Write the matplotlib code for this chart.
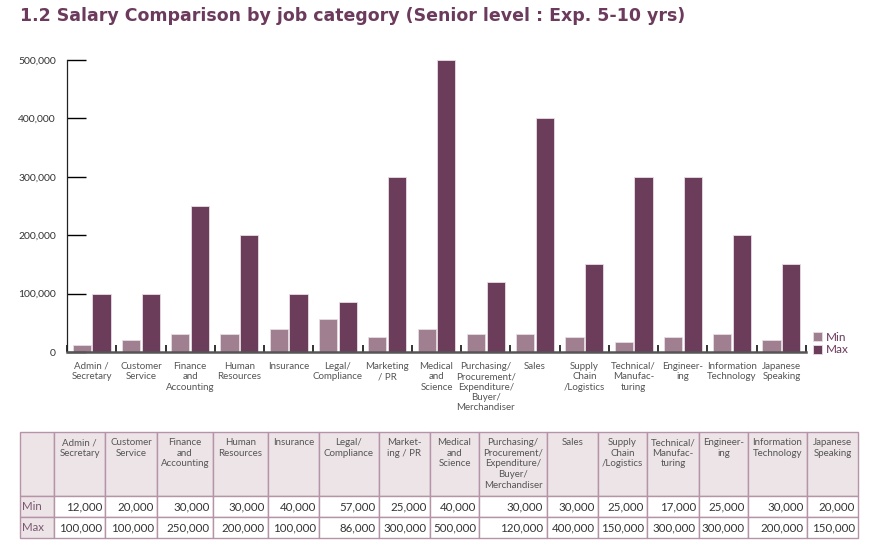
import matplotlib
matplotlib.use('Agg')
import matplotlib.pyplot as plt
import numpy as np

chart_labels = ['Admin /\nSecretary', 'Customer\nService', 'Finance\nand\nAccounting',
                'Human\nResources', 'Insurance', 'Legal/\nCompliance', 'Marketing\n/ PR',
                'Medical\nand\nScience',
                'Purchasing/\nProcurement/\nExpenditure/\nBuyer/\nMerchandiser',
                'Sales', 'Supply\nChain\n/Logistics', 'Technical/\nManufac-\nturing',
                'Engineer-\ning', 'Information\nTechnology', 'Japanese\nSpeaking']
table_labels = ['Admin /\nSecretary', 'Customer\nService', 'Finance\nand\nAccounting',
                'Human\nResources', 'Insurance', 'Legal/\nCompliance', 'Market-\ning / PR',
                'Medical\nand\nScience',
                'Purchasing/\nProcurement/\nExpenditure/\nBuyer/\nMerchandiser',
                'Sales', 'Supply\nChain\n/Logistics', 'Technical/\nManufac-\nturing',
                'Engineer-\ning', 'Information\nTechnology', 'Japanese\nSpeaking']
min_salary = [12000, 20000, 30000, 30000, 40000, 57000, 25000, 40000,
              30000, 30000, 25000, 17000, 25000, 30000, 20000]
max_salary = [100000, 100000, 250000, 200000, 100000, 86000, 300000, 500000,
              120000, 400000, 150000, 300000, 300000, 200000, 150000]
yticks = [0, 100000, 200000, 300000, 400000, 500000]

MIN_COLOR = '#a07f91'
MAX_COLOR = '#6b3d5a'
TITLE_COLOR = '#6b3a5c'
TEXT_COLOR = '#555555'
FONT = ['Lato', 'DejaVu Sans']

plt.rcParams['font.family'] = FONT

W, H = 873, 559
fig = plt.figure(figsize=(W / 100, H / 100), dpi=100)

fig.text(20 / W, 1 - 16 / H, '1.2 Salary Comparison by job category (Senior level : Exp. 5-10 yrs)',
         fontsize=12.5, fontweight='bold', family='DejaVu Sans', color=TITLE_COLOR,
         va='center', ha='left')

## bar chart
ax = fig.add_axes([67 / W, 1 - 352 / H, (806 - 67) / W, (352 - 60) / H])
x = np.arange(len(chart_labels))
bw = 0.37
ax.bar(x - 0.2, min_salary, bw, color=MIN_COLOR, edgecolor='#e8dde3', linewidth=0.6, label='Min')
ax.bar(x + 0.2, max_salary, bw, color=MAX_COLOR, edgecolor='#e8dde3', linewidth=0.6, label='Max')
ax.set_xlim(-0.5, len(chart_labels) - 0.5)
ax.set_ylim(0, 500000)

ax.set_yticks(yticks)
ax.set_yticklabels(['{:,}'.format(v) for v in yticks])
ax.tick_params(axis='y', direction='in', length=14, width=1, pad=8,
               labelsize=7.5, labelcolor='#333333')
ax.set_xticks(x)
ax.set_xticklabels(chart_labels, fontsize=7, color=TEXT_COLOR, va='top')
ax.tick_params(axis='x', which='major', length=0, pad=7)
ax.set_xticks(np.arange(len(chart_labels) + 1) - 0.5, minor=True)
ax.tick_params(axis='x', which='minor', direction='in', length=5, width=1.2, color='#111111')

for s in ['top', 'right']:
    ax.spines[s].set_visible(False)
ax.spines['left'].set_color('#222222')
ax.spines['left'].set_linewidth(0.9)
ax.spines['bottom'].set_color('#555555')
ax.spines['bottom'].set_linewidth(1.8)

fig.legend(loc='upper left', bbox_to_anchor=(813 / W, 1 - 332 / H), frameon=False,
           fontsize=8.5, handlelength=0.8, handleheight=0.8, handletextpad=0.3,
           labelspacing=0.1, labelcolor=TITLE_COLOR, borderaxespad=0, borderpad=0)

## table below the chart
borders = [20, 54, 105, 157, 213, 268, 319, 379, 430, 479, 547, 598, 647, 699, 748, 807, 858]
col_w = np.diff(borders)
tax = fig.add_axes([20 / W, 1 - 538 / H, (858 - 20) / W, (538 - 432) / H])
tax.axis('off')

n_lines = max(l.count('\n') for l in table_labels) + 1
header = [''] + [l + '\n' * (n_lines - 1 - l.count('\n')) for l in table_labels]
cells = [header,
         ['Min'] + ['{:,}'.format(v) for v in min_salary],
         ['Max'] + ['{:,}'.format(v) for v in max_salary]]
tbl = tax.table(cellText=cells, colWidths=list(col_w / col_w.sum()),
                bbox=[0, 0, 1, 1], cellLoc='right')
tbl.auto_set_font_size(False)
tbl.set_fontsize(8.3)
row_h = [64, 21, 21]
for (r, c), cell in tbl.get_celld().items():
    cell.set_height(row_h[r] / 106)
    cell.set_edgecolor('#b594a8')
    cell.set_linewidth(1)
    txt = cell.get_text()
    if r == 0:
        cell.set_facecolor('#ede4e7')
        txt.set_ha('center')
        txt.set_fontsize(7)
        txt.set_color(TEXT_COLOR)
        txt.set_linespacing(1.25)
    elif c == 0:
        cell.set_facecolor('#ede4e7')
        txt.set_ha('left')
        txt.set_color('#7a5870')
    else:
        cell.set_facecolor('white')
        txt.set_color('#333333')
    cell.PAD = 0.06

plt.savefig('out.png', dpi=100)
